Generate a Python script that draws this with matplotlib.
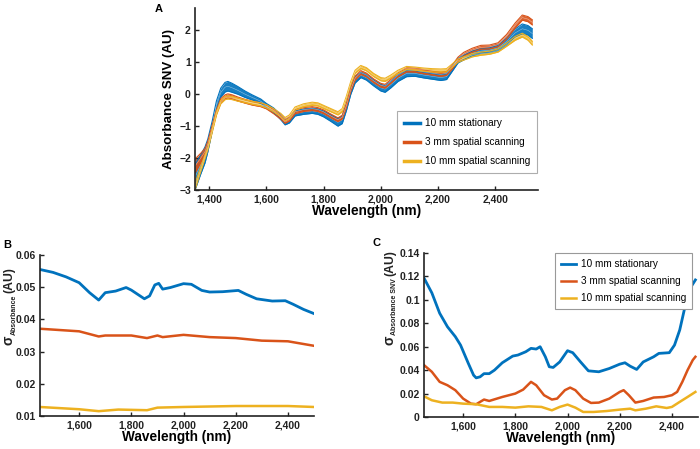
import matplotlib
matplotlib.use("Agg")
import matplotlib.pyplot as plt
from matplotlib.ticker import FuncFormatter
import numpy as np

plt.rcParams['font.family'] = ['Liberation Sans', 'DejaVu Sans']

labels = ['10 mm stationary', '3 mm spatial scanning', '10 mm spatial scanning']
colors = ['#0072BD', '#D95319', '#EDB120']

# ---- Panel A: SNV spectra (band = mean +/- spread) ----
wl_a = [1350, 1370, 1385, 1395, 1410, 1425, 1440, 1455, 1465, 1480, 1500, 1525, 1550, 1580,
        1600, 1625, 1650, 1665, 1680, 1700, 1730, 1760, 1780, 1800, 1825, 1850, 1865, 1880,
        1895, 1910, 1930, 1950, 1975, 2000, 2015, 2035, 2060, 2090, 2120, 2150, 2180, 2210,
        2230, 2250, 2270, 2290, 2320, 2350, 2380, 2410, 2440, 2470, 2495, 2515, 2530]
a_blue = [-2.6, -2.2, -1.9, -1.6, -1.0, -0.35, 0.05, 0.22, 0.25, 0.2, 0.12, 0.0, -0.1, -0.22,
          -0.35, -0.5, -0.72, -0.88, -0.82, -0.6, -0.55, -0.52, -0.55, -0.62, -0.75, -0.88, -0.8, -0.4,
          0.1, 0.45, 0.6, 0.52, 0.35, 0.2, 0.16, 0.3, 0.5, 0.65, 0.65, 0.6, 0.56, 0.52,
          0.55, 0.8, 1.05, 1.15, 1.28, 1.35, 1.38, 1.45, 1.65, 1.92, 2.05, 2.0, 1.9]
s_blue = [0.4, 0.3, 0.25, 0.2, 0.15, 0.14, 0.14, 0.15, 0.15, 0.14, 0.12, 0.1, 0.08, 0.07,
          0.06, 0.07, 0.08, 0.08, 0.08, 0.08, 0.08, 0.08, 0.08, 0.09, 0.1, 0.12, 0.12, 0.1,
          0.1, 0.1, 0.08, 0.08, 0.09, 0.1, 0.1, 0.1, 0.1, 0.1, 0.09, 0.09, 0.09, 0.09,
          0.09, 0.08, 0.07, 0.07, 0.07, 0.07, 0.07, 0.08, 0.1, 0.12, 0.15, 0.15, 0.15]
a_orange = [-2.25, -2.0, -1.8, -1.55, -1.05, -0.55, -0.2, -0.08, -0.05, -0.08, -0.15, -0.22, -0.28, -0.33,
            -0.4, -0.55, -0.72, -0.85, -0.78, -0.55, -0.48, -0.45, -0.48, -0.55, -0.68, -0.8, -0.72, -0.35,
            0.15, 0.5, 0.68, 0.6, 0.42, 0.28, 0.25, 0.4, 0.6, 0.76, 0.75, 0.7, 0.66, 0.62,
            0.65, 0.85, 1.1, 1.25, 1.38, 1.47, 1.48, 1.55, 1.8, 2.15, 2.4, 2.35, 2.25]
s_orange = [0.22, 0.15, 0.1, 0.08, 0.07, 0.06, 0.06, 0.06, 0.06, 0.06, 0.06, 0.06, 0.06, 0.06,
            0.06, 0.06, 0.06, 0.06, 0.06, 0.06, 0.06, 0.06, 0.06, 0.06, 0.06, 0.06, 0.06, 0.06,
            0.06, 0.06, 0.06, 0.06, 0.06, 0.06, 0.06, 0.06, 0.06, 0.06, 0.06, 0.06, 0.06, 0.06,
            0.06, 0.06, 0.06, 0.06, 0.06, 0.06, 0.06, 0.06, 0.07, 0.08, 0.08, 0.08, 0.08]
a_yellow = [-2.9, -2.35, -1.95, -1.7, -1.15, -0.6, -0.25, -0.12, -0.1, -0.12, -0.17, -0.22, -0.27, -0.32,
            -0.38, -0.5, -0.65, -0.78, -0.7, -0.45, -0.35, -0.3, -0.32, -0.4, -0.5, -0.6, -0.5, -0.1,
            0.35, 0.7, 0.85, 0.78, 0.6, 0.47, 0.45, 0.55, 0.7, 0.82, 0.8, 0.77, 0.75, 0.74,
            0.75, 0.9, 1.05, 1.12, 1.22, 1.27, 1.3, 1.37, 1.55, 1.75, 1.85, 1.75, 1.6]
s_yellow = [0.1, 0.08, 0.06, 0.05, 0.05, 0.05, 0.05, 0.05, 0.05, 0.05, 0.05, 0.05, 0.05, 0.05,
            0.05, 0.05, 0.05, 0.05, 0.05, 0.05, 0.05, 0.05, 0.05, 0.05, 0.05, 0.05, 0.05, 0.05,
            0.05, 0.05, 0.05, 0.05, 0.05, 0.05, 0.05, 0.05, 0.05, 0.05, 0.05, 0.05, 0.05, 0.05,
            0.05, 0.05, 0.05, 0.05, 0.05, 0.05, 0.05, 0.05, 0.05, 0.06, 0.06, 0.06, 0.06]

# ---- Panel B: std of absorbance ----
wl_b_blue = [1450, 1500, 1550, 1600, 1640, 1675, 1700, 1740, 1780, 1800, 1850, 1870, 1890, 1905,
             1920, 1950, 2000, 2030, 2070, 2100, 2150, 2210, 2240, 2280, 2340, 2390, 2420, 2460, 2500]
b_blue = [0.0555, 0.0546, 0.0532, 0.0514, 0.0483, 0.046, 0.0483, 0.0488, 0.0499, 0.0491, 0.0464,
          0.0473, 0.0507, 0.0512, 0.0494, 0.0499, 0.0511, 0.0509, 0.049, 0.0485, 0.0486, 0.049,
          0.0478, 0.0464, 0.0457, 0.0458, 0.0447, 0.0431, 0.0418]
wl_b_orange = [1450, 1600, 1675, 1700, 1800, 1860, 1900, 1920, 2000, 2100, 2200, 2300, 2400, 2500]
b_orange = [0.0371, 0.0363, 0.0347, 0.035, 0.035, 0.0342, 0.035, 0.0345, 0.0352, 0.0345, 0.0342,
            0.0334, 0.0332, 0.0318]
wl_b_yellow = [1450, 1600, 1675, 1750, 1860, 1900, 2000, 2200, 2400, 2500]
b_yellow = [0.0128, 0.0121, 0.0115, 0.012, 0.0118, 0.0126, 0.0128, 0.0131, 0.0131, 0.0128]

# ---- Panel C: std of SNV absorbance ----
wl_c_blue = [1450, 1480, 1510, 1540, 1570, 1590, 1620, 1640, 1650, 1665, 1680, 1700, 1720, 1750,
             1790, 1810, 1840, 1860, 1880, 1895, 1915, 1930, 1945, 1970, 2000, 2020, 2050, 2080,
             2120, 2160, 2200, 2220, 2240, 2265, 2290, 2330, 2350, 2390, 2410, 2430, 2450, 2470, 2490]
c_blue = [0.1186, 0.106, 0.0886, 0.077, 0.0686, 0.0614, 0.0457, 0.0357, 0.0334, 0.0343, 0.037,
          0.037, 0.04, 0.0463, 0.052, 0.0529, 0.0557, 0.0586, 0.058, 0.06, 0.0514, 0.0429, 0.0423,
          0.047, 0.0566, 0.0549, 0.047, 0.0394, 0.0386, 0.0414, 0.0451, 0.0463, 0.0434, 0.0406,
          0.047, 0.0514, 0.0543, 0.0549, 0.0614, 0.0743, 0.094, 0.11, 0.117]
wl_c_orange = [1450, 1480, 1510, 1540, 1570, 1600, 1630, 1650, 1665, 1680, 1700, 1750, 1800, 1830,
               1860, 1880, 1910, 1940, 1960, 1990, 2010, 2030, 2060, 2090, 2120, 2160, 2200, 2215,
               2235, 2260, 2290, 2330, 2370, 2400, 2420, 2440, 2460, 2480, 2490]
c_orange = [0.0443, 0.0386, 0.03, 0.0271, 0.0229, 0.0157, 0.0114, 0.0109, 0.0129, 0.0149, 0.0137,
            0.0171, 0.02, 0.0234, 0.03, 0.0271, 0.0186, 0.0149, 0.0157, 0.0229, 0.0251, 0.0229,
            0.0157, 0.012, 0.0123, 0.0157, 0.0214, 0.0229, 0.0186, 0.0123, 0.0137, 0.0166, 0.0171,
            0.0186, 0.0214, 0.03, 0.04, 0.0486, 0.0514]
wl_c_yellow = [1450, 1480, 1520, 1560, 1600, 1650, 1700, 1750, 1800, 1850, 1900, 1940, 1970, 2000,
               2030, 2060, 2100, 2150, 2200, 2240, 2260, 2300, 2340, 2380, 2400, 2430, 2460, 2490]
c_yellow = [0.0177, 0.0143, 0.0123, 0.0123, 0.0114, 0.0109, 0.0086, 0.0086, 0.008, 0.0091, 0.0086,
            0.0057, 0.0086, 0.0106, 0.008, 0.0043, 0.0043, 0.0051, 0.0063, 0.0071, 0.0057, 0.0071,
            0.0091, 0.0077, 0.0086, 0.0129, 0.0171, 0.0214]

W, H = 700, 449
fig = plt.figure(figsize=(W / 100, H / 100), dpi=100)


def ax_at(l, r, t, b):
    return fig.add_axes([l / W, (H - b) / H, (r - l) / W, (b - t) / H])


comma = FuncFormatter(lambda v, p: f'{v:,.0f}')
gfmt = FuncFormatter(lambda v, p: f'{v:g}')


def style(ax):
    for s in ['top', 'right']:
        ax.spines[s].set_visible(False)
    for s in ['left', 'bottom']:
        ax.spines[s].set_linewidth(1.2)
        ax.spines[s].set_color('#222222')
    ax.tick_params(direction='in', length=3, width=1.0, labelsize=7.5, pad=3, colors='#222222')
    for lab in ax.get_xticklabels() + ax.get_yticklabels():
        lab.set_fontweight('bold')
    ax.xaxis.set_major_formatter(comma)


renderer = fig.canvas.get_renderer()


def sigma_label(x, y_bottom, sub):
    """Rotated label: sigma + small subscript + (AU); x = baseline px, y from top px."""
    kw = dict(rotation=90, rotation_mode='anchor', ha='left', va='baseline',
              fontweight='bold', color='#222222', transform=None)
    y = H - y_bottom
    t1 = fig.text(x, y, '\u03c3', fontsize=10, **kw)
    bb = t1.get_window_extent(renderer)
    t2 = fig.text(x + 3, bb.y1 + 0.5, sub, fontsize=5.0, **kw)
    bb2 = t2.get_window_extent(renderer)
    fig.text(x, bb2.y1 + 2, '(AU)', fontsize=8.8, **kw)


# Panel A
axA = ax_at(195, 538, 8, 190)
groups = [(a_blue, s_blue), (a_orange, s_orange), (a_yellow, s_yellow)]
for (m, s), c, lab in zip(groups, colors, labels):
    m = np.array(m); s = np.array(s)
    axA.fill_between(wl_a, m - s, m + s, color=c, lw=0, alpha=0.9)
    axA.plot(wl_a, m + s, color=c, lw=0.8)
    axA.plot(wl_a, m - s, color=c, lw=0.8)
    axA.plot(wl_a, m, color='white', lw=0.4, alpha=0.5)
    axA.plot([], [], color=c, lw=2.5, label=lab)
axA.set_xlim(1350, 2550)
axA.set_ylim(-3, 2.7)
axA.set_xticks([1400, 1600, 1800, 2000, 2200, 2400])
axA.set_yticks([-3, -2, -1, 0, 1, 2])
axA.yaxis.set_major_formatter(FuncFormatter(lambda v, p: f'{v:g}'.replace('-', '\u2212')))
style(axA)
axA.set_xlabel('Wavelength (nm)', fontsize=9.8, fontweight='bold', labelpad=0)
axA.set_ylabel('Absorbance SNV (AU)', fontsize=9.6, fontweight='bold', labelpad=3)
legA = axA.legend(loc='lower right', bbox_to_anchor=(0.997, 0.093), fontsize=7.2,
                  handlelength=1.6, handletextpad=0.5, borderpad=0.7, labelspacing=0.9,
                  fancybox=False, edgecolor='#999999', borderaxespad=0)
legA.get_frame().set_linewidth(0.8)

# Panel B
axB = ax_at(40, 314, 255, 416)
axB.plot(wl_b_blue, b_blue, color=colors[0], lw=2.0)
axB.plot(wl_b_orange, b_orange, color=colors[1], lw=1.8)
axB.plot(wl_b_yellow, b_yellow, color=colors[2], lw=1.8)
axB.set_xlim(1450, 2500)
axB.set_ylim(0.01, 0.06)
axB.set_xticks([1600, 1800, 2000, 2200, 2400])
axB.set_yticks([0.01, 0.02, 0.03, 0.04, 0.05, 0.06])
axB.yaxis.set_major_formatter(gfmt)
style(axB)
axB.set_xlabel('Wavelength (nm)', fontsize=9.8, fontweight='bold', labelpad=0)
sigma_label(12.5, 345, 'Absorbance')

# Panel C
axC = ax_at(424, 698, 253, 417)
axC.plot(wl_c_blue, c_blue, color=colors[0], lw=2.0, label=labels[0])
axC.plot(wl_c_orange, c_orange, color=colors[1], lw=1.8, label=labels[1])
axC.plot(wl_c_yellow, c_yellow, color=colors[2], lw=1.8, label=labels[2])
axC.set_xlim(1450, 2500)
axC.set_ylim(0, 0.14)
axC.set_xticks([1600, 1800, 2000, 2200, 2400])
axC.set_yticks([0, 0.02, 0.04, 0.06, 0.08, 0.1, 0.12, 0.14])
axC.yaxis.set_major_formatter(gfmt)
style(axC)
axC.set_xlabel('Wavelength (nm)', fontsize=9.8, fontweight='bold', labelpad=0)
sigma_label(393, 345, 'Absorbance SNV')
legC = axC.legend(loc='upper right', bbox_to_anchor=(0.978, 1.0), fontsize=7.2,
                  handlelength=1.5, handletextpad=0.5, borderpad=0.6, labelspacing=0.7,
                  fancybox=False, edgecolor='#999999', borderaxespad=0, framealpha=1)
legC.get_frame().set_linewidth(0.8)

# Panel letters
fig.text(155 / W, 1 - 9 / H, 'A', fontsize=8, fontweight='bold', ha='left', va='center')
fig.text(3 / W, 1 - 245 / H, 'B', fontsize=8, fontweight='bold', ha='left', va='center')
fig.text(372 / W, 1 - 243 / H, 'C', fontsize=8, fontweight='bold', ha='left', va='center')

fig.savefig('out.png', dpi=100)
